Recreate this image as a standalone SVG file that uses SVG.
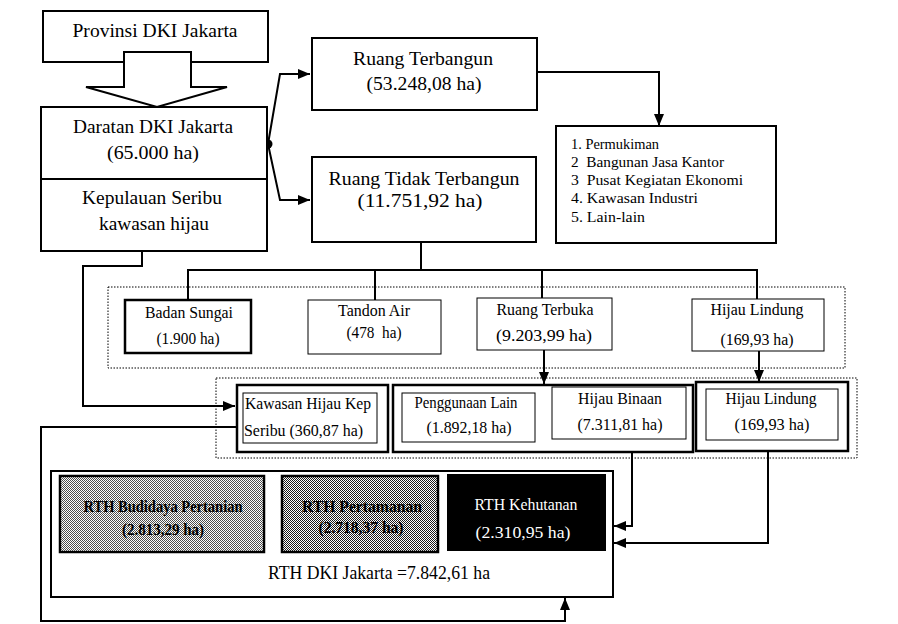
<svg xmlns="http://www.w3.org/2000/svg" width="898" height="624" viewBox="0 0 898 624">
<defs>
<style>
text{font-family:"Liberation Serif","Times New Roman",serif;fill:#000;text-anchor:middle;white-space:pre}
.t17{font-size:18px}
.t15{font-size:16px}
.t14{font-size:14.5px;text-anchor:start}
.lt{text-anchor:start}
.b{font-weight:bold}
.w{fill:#fff}
.box{fill:#fff;stroke:#000;stroke-width:2}
.thick{fill:#fff;stroke:#000;stroke-width:2.5}
.thin{fill:#fff;stroke:#000;stroke-width:1}
.dotr{fill:none;stroke:#000;stroke-width:1;stroke-dasharray:1.5 1.5}
.ln{fill:none;stroke:#000;stroke-width:2}
.arr{marker-end:url(#ah)}
</style>
<marker id="ah" viewBox="0 0 12 10" refX="12" refY="5" markerWidth="6" markerHeight="5" orient="auto" markerUnits="strokeWidth">
<path d="M0,0 L12,5 L0,10 z" fill="#000"/>
</marker>
<pattern id="dither" width="2" height="2" patternUnits="userSpaceOnUse">
<rect width="2" height="2" fill="#fff"/>
<rect width="1" height="1" fill="#000"/>
<rect x="1" y="1" width="1" height="1" fill="#000"/>
</pattern>
</defs>

<g id="frames">
<rect class="dotr" x="108" y="287" width="737" height="81"/>
<rect class="dotr" x="216" y="378" width="641" height="80"/>
</g>

<g id="connectors">
<path class="ln arr" d="M268,144 L280,74 H310"/>
<path class="ln arr" d="M268,144 L280,200 H310"/>
<circle cx="268" cy="144" r="4.5" fill="#000"/>
<path class="ln arr" d="M537,72 H659 V126"/>
<path class="ln" d="M421,242 V270"/>
<path class="ln" d="M188,300 V270 H757 V299"/>
<path class="ln" d="M375,270 V300"/>
<path class="ln" d="M542,270 V298"/>
<path class="ln arr" d="M142,251 V266 H83 V406 H235"/>
<path class="ln arr" d="M544,350 V384"/>
<path class="ln arr" d="M759,351 V382"/>
<path class="ln arr" d="M632,439 V526 H614"/>
<path class="ln arr" d="M768,440 V543 H614"/>
<path class="ln arr" d="M237,427 H41 V621 H565 V598"/>
</g>

<g id="provinsi">
<rect class="box" x="43" y="11" width="225" height="51"/>
<text class="t17" x="155" y="37" textLength="165" lengthAdjust="spacingAndGlyphs">Provinsi DKI Jakarta</text>
</g>

<g id="block-arrow">
<polygon points="124,52 191,52 191,87 227,87 157,107 86,87 124,87" fill="#fff" stroke="#000" stroke-width="2" stroke-linejoin="miter"/>
</g>

<g id="daratan">
<rect class="box" x="41" y="107" width="226" height="144"/>
<line x1="41" y1="179" x2="267" y2="179" stroke="#000" stroke-width="2"/>
<text class="t17" x="153" y="133" textLength="160" lengthAdjust="spacingAndGlyphs">Daratan DKI Jakarta</text>
<text class="t17" x="153" y="159" textLength="92" lengthAdjust="spacingAndGlyphs">(65.000 ha)</text>
<text class="t17" x="152" y="204" textLength="140" lengthAdjust="spacingAndGlyphs">Kepulauan Seribu</text>
<text class="t17" x="154" y="230" textLength="110" lengthAdjust="spacingAndGlyphs">kawasan hijau</text>
</g>

<g id="ruang-terbangun">
<rect class="box" x="312" y="38" width="225" height="72"/>
<text class="t17" x="423" y="65" textLength="140" lengthAdjust="spacingAndGlyphs">Ruang Terbangun</text>
<text class="t17" x="424" y="90" textLength="115" lengthAdjust="spacingAndGlyphs">(53.248,08 ha)</text>
</g>

<g id="ruang-tidak-terbangun">
<rect class="box" x="312" y="157" width="224" height="85"/>
<text class="t17" x="424" y="185" textLength="191" lengthAdjust="spacingAndGlyphs">Ruang Tidak Terbangun</text>
<text class="t17" x="420" y="207" textLength="125" lengthAdjust="spacingAndGlyphs">(11.751,92 ha)</text>
</g>

<g id="daftar">
<rect class="box" x="556" y="126" width="220" height="117"/>
<text class="t14" x="571" y="149" textLength="88" lengthAdjust="spacingAndGlyphs">1. Permukiman</text>
<text class="t14" x="571" y="167" textLength="153" lengthAdjust="spacingAndGlyphs">2  Bangunan Jasa Kantor</text>
<text class="t14" x="571" y="185" textLength="172" lengthAdjust="spacingAndGlyphs">3  Pusat Kegiatan Ekonomi</text>
<text class="t14" x="571" y="203" textLength="127" lengthAdjust="spacingAndGlyphs">4. Kawasan Industri</text>
<text class="t14" x="571" y="222" textLength="74" lengthAdjust="spacingAndGlyphs">5. Lain-lain</text>
</g>

<g id="badan-sungai">
<rect class="thick" x="125" y="300" width="126" height="53"/>
<text class="t15" x="189" y="318" textLength="88" lengthAdjust="spacingAndGlyphs">Badan Sungai</text>
<text class="t15" x="188" y="344" textLength="63" lengthAdjust="spacingAndGlyphs">(1.900 ha)</text>
</g>

<g id="tandon-air">
<rect class="thin" x="308" y="300" width="133" height="54"/>
<text class="t15" x="374" y="316" textLength="72" lengthAdjust="spacingAndGlyphs">Tandon Air</text>
<text class="t15" x="374" y="338" textLength="55" lengthAdjust="spacingAndGlyphs">(478  ha)</text>
</g>

<g id="ruang-terbuka">
<rect class="thin" x="477" y="298" width="135" height="52"/>
<text class="t15" x="545" y="315" textLength="97" lengthAdjust="spacingAndGlyphs">Ruang Terbuka</text>
<text class="t15" x="544" y="341" textLength="96" lengthAdjust="spacingAndGlyphs">(9.203,99 ha)</text>
</g>

<g id="hijau-lindung-atas">
<rect class="thin" x="692" y="299" width="132" height="52"/>
<text class="t15" x="757" y="315" textLength="93" lengthAdjust="spacingAndGlyphs">Hijau Lindung</text>
<text class="t15" x="757" y="345" textLength="73" lengthAdjust="spacingAndGlyphs">(169,93 ha)</text>
</g>

<g id="kawasan-hijau-kep">
<rect class="thick" x="237" y="385" width="151" height="67"/>
<rect class="thin" x="243" y="393" width="134" height="50"/>
<text class="t15 lt" x="245" y="409" textLength="126" lengthAdjust="spacingAndGlyphs">Kawasan Hijau Kep</text>
<text class="t15 lt" x="244" y="436" textLength="119" lengthAdjust="spacingAndGlyphs">Seribu (360,87 ha)</text>
</g>

<g id="ruang-terbuka-rincian">
<rect class="thick" x="393" y="385" width="300" height="67"/>
<rect class="thin" x="402" y="393" width="133" height="49"/>
<text class="t15" x="466" y="408" textLength="103" lengthAdjust="spacingAndGlyphs">Penggunaan Lain</text>
<text class="t15" x="469" y="433" textLength="85" lengthAdjust="spacingAndGlyphs">(1.892,18 ha)</text>
<rect class="thin" x="552" y="387" width="134" height="52"/>
<text class="t15" x="620" y="404" textLength="84" lengthAdjust="spacingAndGlyphs">Hijau Binaan</text>
<text class="t15" x="620" y="430" textLength="85" lengthAdjust="spacingAndGlyphs">(7.311,81 ha)</text>
</g>

<g id="hijau-lindung-bawah">
<rect class="thick" x="696" y="382" width="152" height="69"/>
<rect class="thin" x="706" y="389" width="132" height="51"/>
<text class="t15" x="771" y="404" textLength="91" lengthAdjust="spacingAndGlyphs">Hijau Lindung</text>
<text class="t15" x="772" y="430" textLength="75" lengthAdjust="spacingAndGlyphs">(169,93 ha)</text>
</g>

<g id="rth-dki">
<rect class="box" x="51" y="471" width="562" height="126"/>
<text class="t17" x="379" y="579" textLength="222" lengthAdjust="spacingAndGlyphs">RTH DKI Jakarta =7.842,61 ha</text>
</g>

<g id="rth-budidaya">
<rect x="60" y="476" width="204" height="76" fill="url(#dither)" stroke="#000" stroke-width="2.5"/>
<rect x="61" y="477" width="202" height="74" fill="#fff" opacity="0.3"/>
<text class="t15 b" x="163" y="512" textLength="159" lengthAdjust="spacingAndGlyphs">RTH Budidaya Pertanian</text>
<text class="t15 b" x="163" y="535" textLength="82" lengthAdjust="spacingAndGlyphs">(2.813,29 ha)</text>
</g>

<g id="rth-pertamanan">
<rect x="282" y="476" width="156" height="76" fill="url(#dither)" stroke="#000" stroke-width="2.5"/>
<rect x="283" y="477" width="154" height="74" fill="#fff" opacity="0.1"/>
<text class="t15 b" x="362" y="512" textLength="120" lengthAdjust="spacingAndGlyphs">RTH Pertamanan</text>
<text class="t15 b" x="361" y="533" textLength="85" lengthAdjust="spacingAndGlyphs">(2.718,37 ha)</text>
</g>

<g id="rth-kehutanan">
<rect x="447" y="474" width="159" height="77" fill="#000"/>
<text class="t15 w" x="526" y="510" textLength="103" lengthAdjust="spacingAndGlyphs">RTH Kehutanan</text>
<text class="t15 w" x="523" y="538" textLength="95" lengthAdjust="spacingAndGlyphs">(2.310,95 ha)</text>
</g>
</svg>
